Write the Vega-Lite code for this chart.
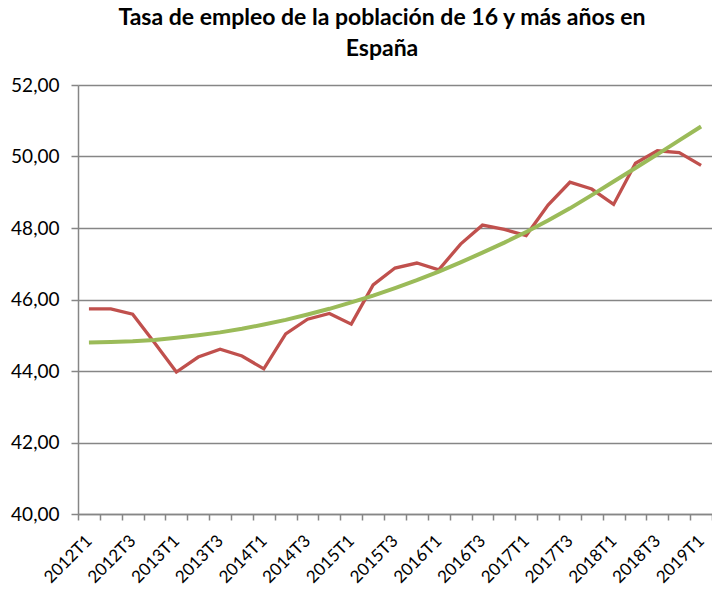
{
  "$schema": "https://vega.github.io/schema/vega-lite/v6.json",
  "autosize": {"type": "none"},
  "width": 634,
  "height": 429,
  "padding": {"left": 78, "top": 85, "right": 0, "bottom": 76},
  "background": "white",
  "title": {
    "text": ["Tasa de empleo de la población de 16 y más años en", "España"],
    "font": "Lato",
    "fontSize": 23,
    "fontWeight": "bold",
    "color": "#000000",
    "lineHeight": 31,
    "anchor": "middle",
    "dx": -13,
    "offset": 15
  },
  "config": {
    "view": {"stroke": null},
    "axis": {"labelFont": "Lato", "labelColor": "#000000"}
  },
  "datasets": {
    "tasa": [
      {"q": "2012T1", "v": 45.74},
      {"q": "2012T2", "v": 45.74},
      {"q": "2012T3", "v": 45.59},
      {"q": "2012T4", "v": 44.79},
      {"q": "2013T1", "v": 43.97},
      {"q": "2013T2", "v": 44.39},
      {"q": "2013T3", "v": 44.61},
      {"q": "2013T4", "v": 44.42},
      {"q": "2014T1", "v": 44.06},
      {"q": "2014T2", "v": 45.04},
      {"q": "2014T3", "v": 45.45},
      {"q": "2014T4", "v": 45.61},
      {"q": "2015T1", "v": 45.31},
      {"q": "2015T2", "v": 46.41},
      {"q": "2015T3", "v": 46.88},
      {"q": "2015T4", "v": 47.02},
      {"q": "2016T1", "v": 46.83},
      {"q": "2016T2", "v": 47.55},
      {"q": "2016T3", "v": 48.08},
      {"q": "2016T4", "v": 47.96},
      {"q": "2017T1", "v": 47.79},
      {"q": "2017T2", "v": 48.64},
      {"q": "2017T3", "v": 49.28},
      {"q": "2017T4", "v": 49.09},
      {"q": "2018T1", "v": 48.66},
      {"q": "2018T2", "v": 49.81},
      {"q": "2018T3", "v": 50.16},
      {"q": "2018T4", "v": 50.11},
      {"q": "2019T1", "v": 49.75}
    ],
    "tendencia": [
      {"q": "2012T1", "v": 44.80},
      {"q": "2012T2", "v": 44.81},
      {"q": "2012T3", "v": 44.83},
      {"q": "2012T4", "v": 44.87},
      {"q": "2013T1", "v": 44.93},
      {"q": "2013T2", "v": 45.00},
      {"q": "2013T3", "v": 45.08},
      {"q": "2013T4", "v": 45.18},
      {"q": "2014T1", "v": 45.30},
      {"q": "2014T2", "v": 45.43},
      {"q": "2014T3", "v": 45.58},
      {"q": "2014T4", "v": 45.74},
      {"q": "2015T1", "v": 45.92},
      {"q": "2015T2", "v": 46.11},
      {"q": "2015T3", "v": 46.32},
      {"q": "2015T4", "v": 46.54},
      {"q": "2016T1", "v": 46.78},
      {"q": "2016T2", "v": 47.04},
      {"q": "2016T3", "v": 47.31},
      {"q": "2016T4", "v": 47.59},
      {"q": "2017T1", "v": 47.89},
      {"q": "2017T2", "v": 48.21},
      {"q": "2017T3", "v": 48.55},
      {"q": "2017T4", "v": 48.92},
      {"q": "2018T1", "v": 49.30},
      {"q": "2018T2", "v": 49.68},
      {"q": "2018T3", "v": 50.06},
      {"q": "2018T4", "v": 50.45},
      {"q": "2019T1", "v": 50.84}
    ]
  },
  "encoding": {
    "x": {
      "field": "q",
      "type": "ordinal",
      "bandPosition": 0.5,
      "scale": {"type": "band", "paddingInner": 0, "paddingOuter": 0},
      "axis": {
        "title": null,
        "tickBand": "extent",
        "domainColor": "#868686",
        "domainWidth": 1.5,
        "tickColor": "#868686",
        "tickWidth": 1.5,
        "tickSize": 6,
        "labelAngle": -45,
        "labelAlign": "right",
        "labelBaseline": "middle",
        "labelFontSize": 17,
        "labelPadding": 18,
        "labelOverlap": false,
        "labelBound": false,
        "labelExpr": "test(/T[13]$/, datum.label) ? datum.label : ''",
        "grid": false
      }
    },
    "y": {
      "field": "v",
      "type": "quantitative",
      "scale": {"domain": [40, 52], "nice": false, "zero": false},
      "axis": {
        "title": null,
        "values": [40, 42, 44, 46, 48, 50, 52],
        "labelExpr": "replace(format(datum.value, '.2f'), '.', ',')",
        "labelFontSize": 19,
        "labelPadding": 12,
        "tickSize": 7,
        "tickColor": "#868686",
        "tickWidth": 1.5,
        "domainColor": "#868686",
        "domainWidth": 1.5,
        "grid": true,
        "gridColor": "#868686",
        "gridWidth": 1.5
      }
    }
  },
  "layer": [
    {
      "data": {"name": "tasa"},
      "mark": {"type": "line", "color": "#C0504D", "strokeWidth": 3.3}
    },
    {
      "data": {"name": "tendencia"},
      "mark": {"type": "line", "color": "#9BBB59", "strokeWidth": 4}
    }
  ]
}
